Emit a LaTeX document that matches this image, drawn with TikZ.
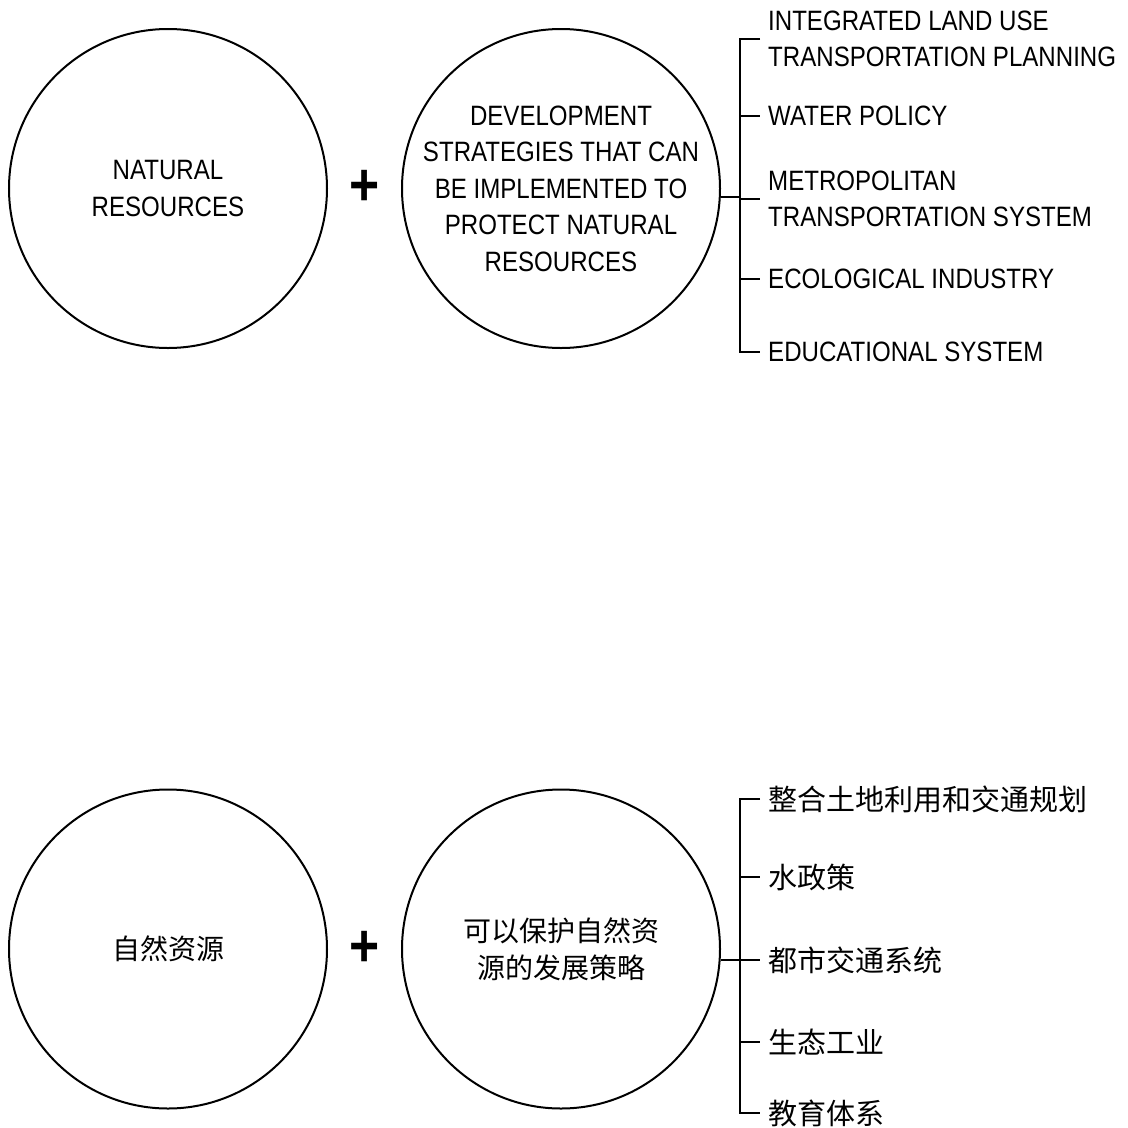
\documentclass[tikz,border=0pt]{standalone}
\usepackage{fontspec}
\setmainfont[FakeStretch=0.86]{Liberation Sans}
\newfontfamily\cjk{Noto Sans CJK SC}
\usetikzlibrary{shapes.geometric}
\begin{document}
\begin{tikzpicture}[x=1pt,y=-1pt,
  bubble/.style={draw, ellipse, line width=2pt, minimum width=318pt, minimum height=319pt,
    inner sep=0pt},
  bubbletext/.style={align=center, inner sep=0pt, font=\fontsize{28}{36.5}\selectfont},
  cjkbubbletext/.style={bubbletext, font=\cjk\fontsize{28}{37}\selectfont},
  plussign/.style={inner sep=0pt, font=\fontsize{60}{60}\selectfont\bfseries},
  item/.style={anchor=west, inner xsep=8pt, inner ysep=0pt, align=left, font=\fontsize{28}{36}\selectfont},
  cjkitem/.style={item, font=\cjk\fontsize{29}{36}\selectfont},
  bracket/.style={draw, line width=2.5pt, line join=miter}]
\useasboundingbox (0,0) rectangle (1128,1128);

% ---------- top (English) ----------
\node[bubble, label={[bubbletext]center:NATURAL\\RESOURCES}] (nr) at (168,188.5) {};
\node[plussign] (p1) at (365,188) {+};
\node[bubble, label={[bubbletext]center:DEVELOPMENT\\STRATEGIES THAT CAN\\BE IMPLEMENTED TO\\PROTECT NATURAL\\RESOURCES}] (dev) at (561,188.5) {};

\coordinate (bt) at (740,199);
\node[item] (e1) at (760,39) {INTEGRATED LAND USE\\TRANSPORTATION PLANNING};
\node[item] (e2) at (760,116) {WATER POLICY};
\node[item] (e3) at (760,199) {METROPOLITAN\\TRANSPORTATION SYSTEM};
\node[item] (e4) at (760,279) {ECOLOGICAL INDUSTRY};
\node[item] (e5) at (760,352) {EDUCATIONAL SYSTEM};

\draw[bracket] (e1.west) -- (e1.west -| bt) -- (e5.west -| bt) -- (e5.west);
\draw[bracket] (e2.west -| bt) -- (e2.west);
\draw[bracket] (e3.west -| bt) -- (e3.west);
\draw[bracket] (e4.west -| bt) -- (e4.west);
\draw[bracket] (dev.-3.8) -- (dev.-3.8 -| bt);

% ---------- bottom (Chinese) ----------
\node[bubble, label={[cjkbubbletext]center:自然资源}] (zr) at (168,949) {};
\node[plussign] (p2) at (365,949) {+};
\node[bubble, label={[cjkbubbletext]center:可以保护自然资\\源的发展策略}] (cl) at (561,949) {};

\coordinate (bb) at (740,960);
\node[cjkitem] (c1) at (760,799) {整合土地利用和交通规划};
\node[cjkitem] (c2) at (760,877) {水政策};
\node[cjkitem] (c3) at (760,960) {都市交通系统};
\node[cjkitem] (c4) at (760,1042) {生态工业};
\node[cjkitem] (c5) at (760,1113) {教育体系};

\draw[bracket] (c1.west) -- (c1.west -| bb) -- (c5.west -| bb) -- (c5.west);
\draw[bracket] (c2.west -| bb) -- (c2.west);
\draw[bracket] (c3.west -| bb) -- (c3.west);
\draw[bracket] (c4.west -| bb) -- (c4.west);
\draw[bracket] (cl.-4) -- (cl.-4 -| bb);
\end{tikzpicture}
\end{document}
